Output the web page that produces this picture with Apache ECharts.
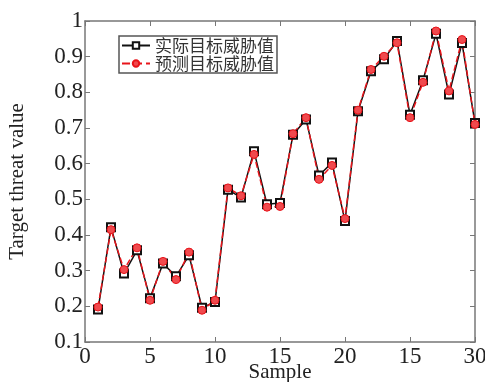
<!DOCTYPE html>
<html><head><meta charset="utf-8">
<script src="https://cdn.jsdelivr.net/npm/echarts@6/dist/echarts.min.js"></script>
<style>html,body{margin:0;padding:0;background:#fff}#c{width:485px;height:382px}</style>
</head><body><div id="c"></div>
<script>
const samples = [1,2,3,4,5,6,7,8,9,10,11,12,13,14,15,16,17,18,19,20,21,22,23,24,25,26,27,28,29,30];
const actual = [0.191,0.422,0.292,0.357,0.223,0.320,0.284,0.343,0.196,0.212,0.527,0.505,0.635,0.486,0.490,0.681,0.724,0.567,0.603,0.439,0.747,0.859,0.893,0.944,0.737,0.834,0.964,0.794,0.938,0.714];
const predicted = [0.198,0.415,0.303,0.364,0.217,0.326,0.275,0.352,0.189,0.217,0.532,0.510,0.626,0.478,0.480,0.684,0.729,0.556,0.595,0.446,0.750,0.864,0.901,0.939,0.729,0.828,0.972,0.804,0.948,0.710];
const xTickLabels = ["0","5","10","15","20","15","30"];
const yTickLabels = ["0.1","0.2","0.3","0.4","0.5","0.6","0.7","0.8","0.9","1"];
const seriesNames = ["实际目标威胁值","预测目标威胁值"];

const serif = '"Liberation Serif","DejaVu Serif",serif';
const axisColor = '#777';
const chart = echarts.init(document.getElementById('c'));
const xAx = {
  type:'value', min:0, max:30, interval:5,
  axisLine:{show:true,onZero:false,lineStyle:{color:axisColor,width:1.5}},
  axisTick:{show:true,inside:true,length:5,lineStyle:{color:axisColor}},
  splitLine:{show:false}
};
const yAx = {
  type:'value', min:0.1, max:1, interval:0.1,
  axisLine:{show:true,onZero:false,lineStyle:{color:axisColor,width:1.5}},
  axisTick:{show:true,inside:true,length:5,lineStyle:{color:axisColor}},
  splitLine:{show:false}
};
chart.setOption({
  animation:false,
  backgroundColor:'#fff',
  grid:{left:85,right:10,top:21,bottom:40,containLabel:false,outerBoundsMode:'none'},
  legend:{
    data:seriesNames, orient:'vertical', left:119, top:36,
    itemWidth:28, itemHeight:8, itemGap:1,
    padding:[1,3,1,2],
    borderColor:'#555', borderWidth:1.5, backgroundColor:'#fff',
    textStyle:{fontFamily:'"Noto Sans CJK SC",sans-serif',fontSize:17,color:'#333'}
  },
  xAxis:[
    Object.assign({}, xAx, {position:'bottom',
      name:'Sample', nameLocation:'middle', nameGap:20, nameMoveOverlap:false,
      nameTextStyle:{fontFamily:serif,fontSize:21,color:'#222',verticalAlign:'top'},
      axisLabel:{fontFamily:serif,fontSize:23,color:'#222',margin:3,
        formatter:(v)=>xTickLabels[Math.round(v/5)]}}),
    Object.assign({}, xAx, {position:'top', axisLabel:{show:false}})
  ],
  yAxis:[
    Object.assign({}, yAx, {position:'left',
      name:'Target threat value', nameLocation:'middle', nameGap:57,
      nameTextStyle:{fontFamily:serif,fontSize:21,color:'#222'},
      axisLabel:{fontFamily:serif,fontSize:23,color:'#222',margin:2,
        formatter:(v)=>yTickLabels[Math.round(v*10)-1]}}),
    Object.assign({}, yAx, {position:'right', axisLabel:{show:false}})
  ],
  series:[
    {name:seriesNames[0], type:'line',
      data:samples.map((s,i)=>[s,actual[i]]),
      symbol:'emptyRect', symbolSize:8,
      lineStyle:{color:'#111',width:1.5},
      itemStyle:{color:'#111',borderColor:'#111',borderWidth:1.5}},
    {name:seriesNames[1], type:'line',
      data:samples.map((s,i)=>[s,predicted[i]]),
      symbol:'circle', symbolSize:8,
      lineStyle:{color:'#e8141a',width:1.5,type:'dashed'},
      itemStyle:{color:'#f04a4e',borderColor:'#e8141a',borderWidth:1}}
  ]
});
</script></body></html>
